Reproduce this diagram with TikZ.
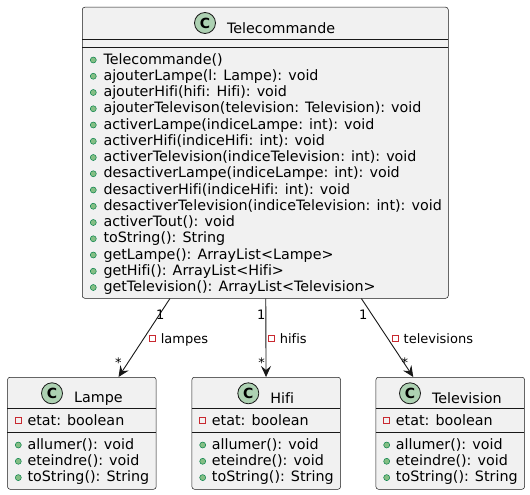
\documentclass[tikz,border=0pt]{standalone}
\usepackage{fontspec}
\setmainfont{DejaVu Sans}[Ligatures=NoCommon]
\usetikzlibrary{positioning,arrows.meta}
\definecolor{umlline}{HTML}{181818}
\definecolor{umlfill}{HTML}{F1F1F1}
\definecolor{iconfill}{HTML}{ADD1B2}
\definecolor{pubfill}{HTML}{84BE84}
\definecolor{publine}{HTML}{038048}
\definecolor{privline}{HTML}{C82930}

\tikzset{
  classbox/.style={draw=umlline, fill=umlfill, line width=0.5pt, rounded corners=2.5pt, inner sep=0pt, anchor=north west},
  classicon/.style={circle, draw=umlline, fill=iconfill, line width=0.8pt, minimum size=21pt, inner sep=0pt, font=\fontsize{14}{16}\selectfont\bfseries},
  classname/.style={anchor=base west, inner sep=0pt, yshift=-5pt, font=\fontsize{14.3}{16}\selectfont},
  member/.style={anchor=base west, inner sep=0pt, font=\fontsize{14.3}{16}\selectfont},
  pub/.style={circle, draw=publine, fill=pubfill, line width=0.5pt, minimum size=6pt, inner sep=0pt},
  priv/.style={rectangle, draw=privline, line width=0.7pt, minimum size=6pt, inner sep=0pt},
  sep/.style={draw=umlline, line width=0.5pt},
  assoc/.style={draw=umlline, line width=0.9pt, -{Stealth[length=11pt,width=10pt,inset=4pt]}},
  mult/.style={anchor=base, inner sep=0pt, font=\fontsize{13}{15}\selectfont},
  role/.style={anchor=base west, inner sep=0pt, text height=9.9pt, text depth=0pt, font=\fontsize{13}{15}\selectfont},
}

\begin{document}
\begin{tikzpicture}[x=1pt, y=-1pt]
	\useasboundingbox (0,0) rectangle (530,495);

	% Telecommande
	\node[classbox, minimum width=366pt, minimum height=291pt] (tele) at (82,7) {};
	\node[classicon] (teleicon) at (205,23) {C};
	\node[classname, right=11pt of teleicon] (telename) {Telecommande};
	\draw[sep] (82,39) -- (448,39);
	\draw[sep] (82,47) -- (448,47);
	\foreach \m [count=\i from 0] in {Telecommande(), ajouterLampe(l: Lampe): void, ajouterHifi(hifi: Hifi): void,
		ajouterTelevison(television: Television): void, activerLampe(indiceLampe: int): void,
		activerHifi(indiceHifi: int): void, activerTelevision(indiceTelevision: int): void,
		desactiverLampe(indiceLampe: int): void, desactiverHifi(indiceHifi: int): void,
		desactiverTelevision(indiceTelevision: int): void, activerTout(): void, toString(): String,
		getLampe(): ArrayList<Lampe>, getHifi(): ArrayList<Hifi>, getTelevision(): ArrayList<Television>}
	{
		\node[pub] (teledot\i) at (93.3,{60+16.25*\i}) {};
		\node[member] (telem\i) at (103.3,{64+16.25*\i}) {\m};
	}

	% Lampe, Hifi, Television
	\foreach \cls/\title/\bx/\ix in {lampe/Lampe/7.3/52, hifi/Hifi/191.7/248.3, tv/Television/375.7/410}
	{
		\node[classbox, minimum width=148.6pt, minimum height=112pt] (\cls) at (\bx,377) {};
		\node[classicon] (\cls icon) at (\ix,393.3) {C};
		\node[classname, right=11pt of \cls icon] (\cls name) {\title};
		\draw[sep] (\bx,408) -- ({\bx+148.6},408);
		\draw[sep] (\bx,432) -- ({\bx+148.6},432);
		\node[priv] (\cls sq) at ({\bx+11},420.7) {};
		\node[member] (\cls etat) at ({\bx+20},425.3) {etat: boolean};
		\foreach \m [count=\j from 0] in {allumer(): void, eteindre(): void, toString(): String}
		{
			\node[pub] (\cls dot\j) at ({\bx+11},{445+16.3*\j}) {};
			\node[member] (\cls m\j) at ({\bx+20},{449.3+16.3*\j}) {\m};
		}
	}

	% associations
	\draw[assoc] (tele) -- node[mult, pos=0.266, xshift=4pt] (lampeone) {1}
		node[role, pos=0.57, xshift=19.7pt] (lamperole) {lampes}
		node[mult, pos=0.873, xshift=-6.7pt] (lampemany) {*} (lampe);
	\draw[assoc] (tele) -- node[mult, pos=0.266, xshift=-4.5pt] (hifione) {1}
		node[role, pos=0.57, xshift=13.5pt] (hifirole) {hifis}
		node[mult, pos=0.873, xshift=-4.5pt] (hifimany) {*} (hifi);
	\draw[assoc] (tele) -- node[mult, pos=0.266, xshift=-11.8pt] (tvone) {1}
		node[role, pos=0.57, xshift=12.3pt] (tvrole) {televisions}
		node[mult, pos=0.873, xshift=-1.9pt] (tvmany) {*} (tv);

	\node[priv, left=5pt of lamperole.west] (lampesq2) {};
	\node[priv, left=5pt of hifirole.west] (hifisq2) {};
	\node[priv, left=5pt of tvrole.west] (tvsq2) {};
\end{tikzpicture}
\end{document}
